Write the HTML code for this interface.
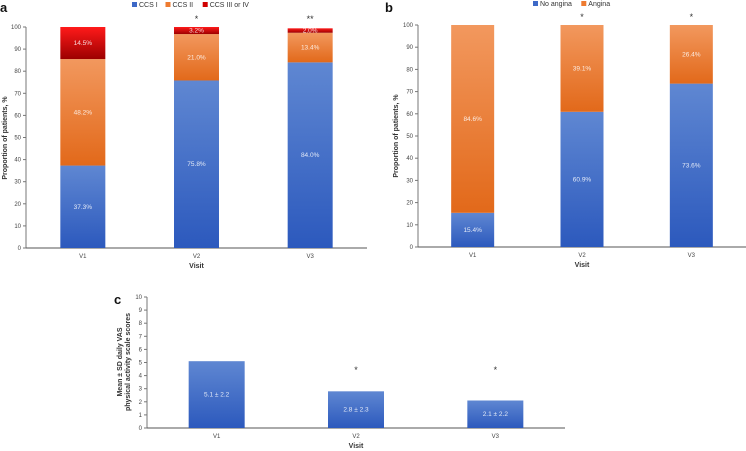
<!DOCTYPE html>
<html><head><meta charset="utf-8"><style>
body{margin:0;background:#fff;}
svg{display:block;font-family:"Liberation Sans",sans-serif;}
</style></head><body>
<svg id="s" width="746" height="451">
<defs>
<linearGradient id="gb" x1="0" y1="0" x2="0" y2="1"><stop offset="0" stop-color="#5f87d2"/><stop offset="1" stop-color="#2c59bd"/></linearGradient>
<linearGradient id="go" x1="0" y1="0" x2="0" y2="1"><stop offset="0" stop-color="#f2985e"/><stop offset="1" stop-color="#e2691a"/></linearGradient>
<linearGradient id="gr" x1="0" y1="0" x2="0" y2="1"><stop offset="0" stop-color="#ff1a1a"/><stop offset="1" stop-color="#9c0000"/></linearGradient>
</defs>
</svg>
<script>
const categories=["V1","V2","V3"];
const aCCS1=[37.3,75.8,84.0];
const aCCS2=[48.2,21.0,13.4];
const aCCS3=[14.5,3.2,2.0];
const aStars=["","*","**"];
const bNoAngina=[15.4,60.9,73.6];
const bAngina=[84.6,39.1,26.4];
const bStars=["","*","*"];
const cMean=[5.1,2.8,2.1];
const cSD=[2.2,2.3,2.2];
const cStars=["","*","*"];
const yTicksPct=[0,10,20,30,40,50,60,70,80,90,100];
const yTicksVas=[0,1,2,3,4,5,6,7,8,9,10];

const svg=document.getElementById('s');
const NS="http://www.w3.org/2000/svg";
function el(t,a,txt){const e=document.createElementNS(NS,t);for(const k in a)e.setAttribute(k,a[k]);if(txt!==undefined)e.textContent=txt;svg.appendChild(e);return e;}

function axes(p,ticks,id){
  const y=v=>p.y0-(v-ticks[0])/(ticks[ticks.length-1]-ticks[0])*(p.y0-p.y1);
  const ax=el('line',{x1:p.x0,y1:p.y1,x2:p.x0,y2:p.y0,stroke:'#777','stroke-width':1});
  
  const xa=el('line',{x1:p.x0,y1:p.y0,x2:p.x2,y2:p.y0,stroke:'#555','stroke-width':1});
  
  ticks.forEach(v=>{
    el('line',{x1:p.x0-3,x2:p.x0,y1:y(v),y2:y(v),stroke:'#777'});
    const t=el('text',{x:p.x0-5,y:y(v)+2,'font-size':6,'text-anchor':'end',fill:'#444'},v);
    
  });
  const cw=(p.x2-p.x0)/categories.length;
  const x=i=>p.x0+cw*(i+0.5);
  categories.forEach((c,i)=>{
    const t=el('text',{x:x(i),y:p.y0+10,'font-size':6,'text-anchor':'middle',fill:'#444'},c);
    
  });
  const vt=el('text',{x:(p.x0+p.x2)/2,y:p.y0+20,'font-size':7,'font-weight':'bold','text-anchor':'middle',fill:'#333'},'Visit');
  
  return {y,x};
}
function label(x,y,txt,name){const t=el('text',{x:x,y:y,'font-size':6.5,'text-anchor':'middle',fill:'#fff','fill-opacity':0.85},txt);}
function stacked(p,series,fills,ticks,stars,id,bw,names){
  const s=axes(p,ticks,id);
  categories.forEach((c,i)=>{
    let base=0;
    series.forEach((arr,k)=>{
      const v=arr[i];const yt=s.y(base+v),yb=s.y(base);
      const r=el('rect',{x:s.x(i)-bw/2,y:yt,width:bw,height:yb-yt,fill:fills[k]});
      
      label(s.x(i),(yt+yb)/2+2,v.toFixed(1)+'%',id+'-value-label');
      base+=v;
    });
    if(stars[i]){const t=el('text',{x:s.x(i),y:p.y1-5,'font-size':9,'text-anchor':'middle',fill:'#333'},stars[i]);}
  });
}
function ytitle(x,y,lines,id){
  lines.forEach((l,j)=>{const t=el('text',{x:0,y:0,'font-size':7,'font-weight':'bold','text-anchor':'middle',fill:'#333',transform:`translate(${x+j*8},${y}) rotate(-90)`},l);});
}
function panelLetter(x,y,l){const t=el('text',{x:x,y:y,'font-size':13,'font-weight':'bold',fill:'#111'},l);}
function legend(x,y,items,id){
  let cx=x;items.forEach(([n,c])=>{
    const r=el('rect',{x:cx,y:y-5,width:5,height:5,fill:c});
    const t=el('text',{x:cx+7,y:y,'font-size':7,fill:'#333'},n);
    cx+=9+n.length*3.7+6;
  });
}

// Panel a
panelLetter(0,12,'a');
legend(132,7,[['CCS I','#3d69c7'],['CCS II','#ee7b30'],['CCS III or IV','#d00000']],'a');
stacked({x0:26,x2:367,y0:248,y1:27},[aCCS1,aCCS2,aCCS3],['url(#gb)','url(#go)','url(#gr)'],yTicksPct,aStars,'a',45,['ccs1','ccs2','ccs3']);
ytitle(7,138,['Proportion of patients, %'],'a');

// Panel b
panelLetter(385,12,'b');
legend(533,6,[['No angina','#3d69c7'],['Angina','#ee7b30']],'b');
stacked({x0:418,x2:746,y0:247,y1:25},[bNoAngina,bAngina],['url(#gb)','url(#go)'],yTicksPct,bStars,'b',43,['no-angina','angina']);
ytitle(398,136,['Proportion of patients, %'],'b');

// Panel c
panelLetter(114,304,'c');
(function(){
  const p={x0:147,x2:565,y0:428,y1:297};
  const s=axes(p,yTicksVas,'c');
  categories.forEach((c,i)=>{
    const yt=s.y(cMean[i]);
    const r=el('rect',{x:s.x(i)-28,y:yt,width:56,height:p.y0-yt,fill:'url(#gb)'});
    
    label(s.x(i),(yt+p.y0)/2+2,cMean[i].toFixed(1)+' ± '+cSD[i].toFixed(1),'c-value-label');
    if(cStars[i]){const t=el('text',{x:s.x(i),y:s.y(4.5)+4,'font-size':9,'text-anchor':'middle',fill:'#333'},cStars[i]);}
  });
  ytitle(122,362,['Mean ± SD daily VAS','physical activity scale scores'],'c');
})();
</script>
</body></html>
